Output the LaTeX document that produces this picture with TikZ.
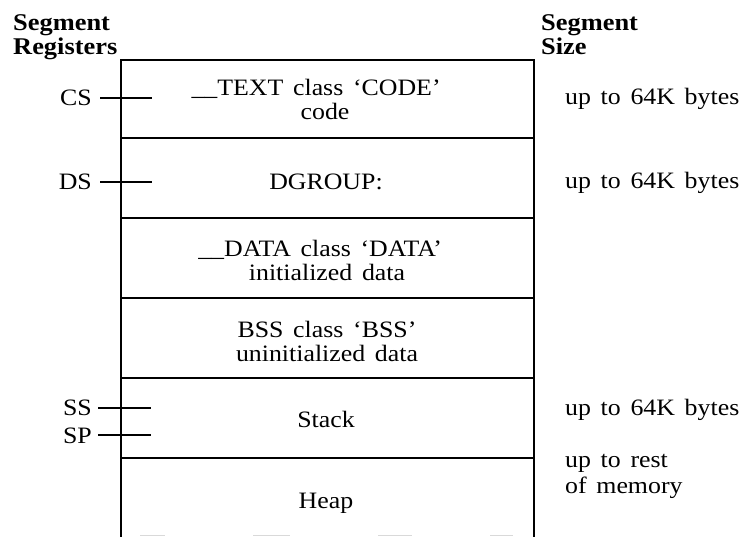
\documentclass[tikz,border=0pt]{standalone}
\usepackage{fontspec}
\setmainfont{Liberation Serif}[FakeStretch=1.1, WordSpace=1.5]
\begin{document}
\begin{tikzpicture}[x=1pt, y=-1pt,
  txt/.style={inner sep=0pt, anchor=base, font=\fontsize{23.5}{24}\selectfont},
  reg/.style={txt, anchor=base east},
  size/.style={txt, anchor=base west},
  head/.style={inner sep=0pt, anchor=base west, font=\fontsize{24}{24}\bfseries\selectfont},
  frame/.style={line width=1.8pt},
  tick/.style={line width=1.2pt},
  edge/.style={line width=0.8pt, gray!30}]
\useasboundingbox (0,0) rectangle (742,537);

% memory map outline and segment dividers
\coordinate (tl) at (121,60);
\coordinate (tr) at (534,60);
\coordinate (bl) at (121,537);
\coordinate (br) at (534,537);
\draw[frame] (bl) -- (tl) -- (tr) -- (br);
\foreach \y in {138,218,298,378,458}
  \draw[frame] (121,\y) -- (534,\y);
% faint remains of the lower edge
\foreach \a/\b in {140/165,253/290,378/412,490/513}
  \draw[edge] (\a,535.5) -- (\b,535.5);

% column headings
\node[head] (hrA) at (13,31) {Segment};
\node[head] (hrB) at (13,55) {Registers};
\node[head] (hsA) at (541,31) {Segment};
\node[head] (hsB) at (541,55) {Size};

% segment contents
\node[txt] (s1a) at (329,96) {\llap{\_\_}TEXT class `CODE'};
\node[txt] (s1b) at (325,120) {code};
\node[txt] (s2)  at (326,190) {DGROUP:};
\node[txt] (s3a) at (333,257) {\llap{\_\_}DATA class `DATA'};
\node[txt] (s3b) at (327,281) {initialized data};
\node[txt] (s4a) at (327,338) {BSS class `BSS'};
\node[txt] (s4b) at (327,362) {uninitialized data};
\node[txt] (s5)  at (326,427) {Stack};
\node[txt] (s6)  at (326,508) {Heap};

% register ticks on the left edge
\coordinate (csA) at (100,98);  \coordinate (csB) at (152,98);
\coordinate (dsA) at (100,182); \coordinate (dsB) at (152,182);
\coordinate (ssA) at (98,408);  \coordinate (ssB) at (151,408);
\coordinate (spA) at (98,435);  \coordinate (spB) at (151,435);
\draw[tick] (csA) -- (csB);
\draw[tick] (dsA) -- (dsB);
\draw[tick] (ssA) -- (ssB);
\draw[tick] (spA) -- (spB);
\node[reg] (cs) at (92,106) {CS};
\node[reg] (ds) at (92,190) {DS};
\node[reg] (ss) at (92,416) {SS};
\node[reg] (sp) at (92,443) {SP};

% segment sizes
\node[size] (z1)  at (565,105) {up to 64K bytes};
\node[size] (z2)  at (565,189) {up to 64K bytes};
\node[size] (z3)  at (565,415) {up to 64K bytes};
\node[size] (z4a) at (565,467) {up to rest};
\node[size] (z4b) at (565,493) {of memory};
\end{tikzpicture}
\end{document}
